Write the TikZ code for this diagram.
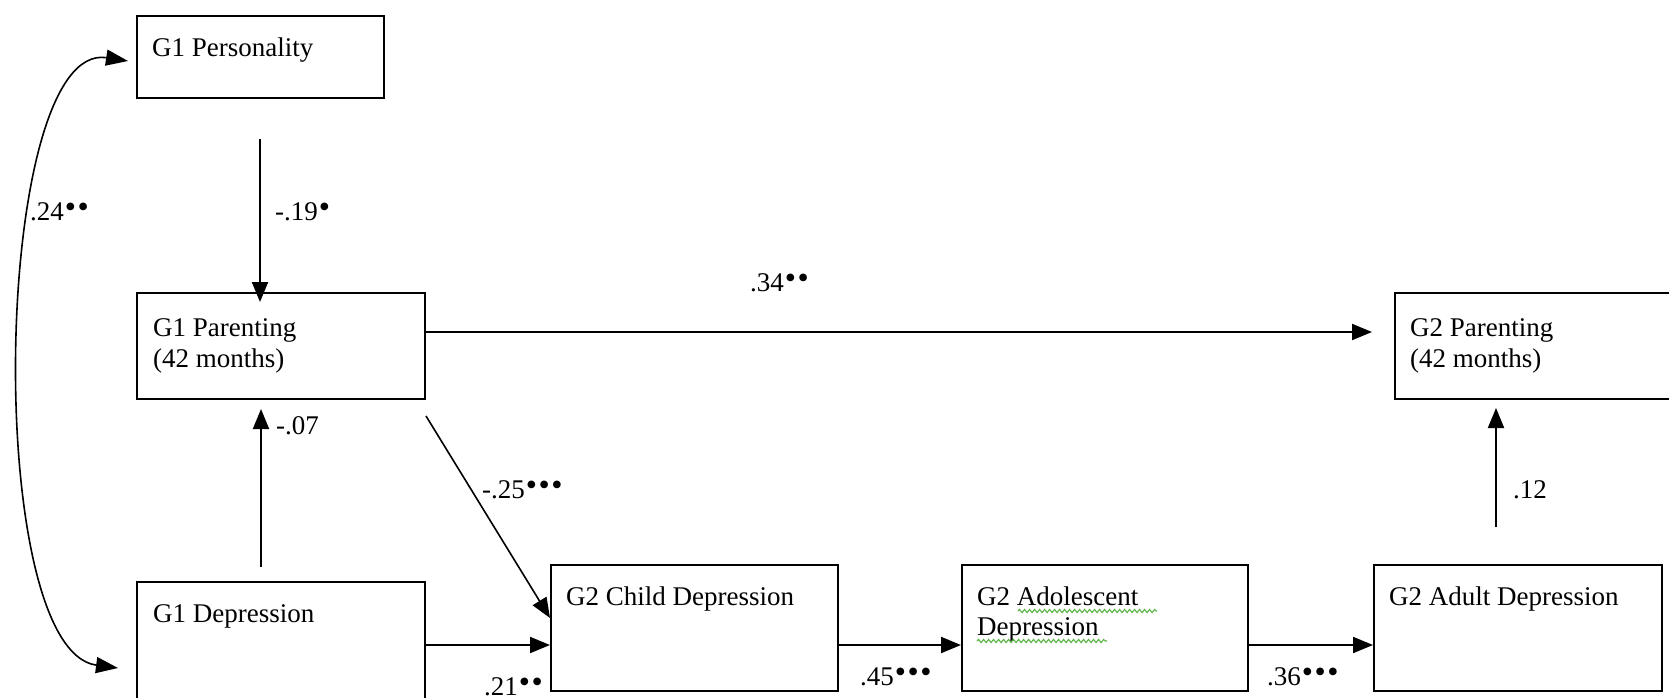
\documentclass[tikz,border=0pt]{standalone}
\usepackage{fontspec}
\setmainfont{Liberation Serif}
\usetikzlibrary{arrows.meta,decorations.pathmorphing}
\newcommand{\sg}{\kern1pt\raisebox{2.5pt}{\fontsize{32}{32}\selectfont•}\kern0.5pt}
\definecolor{spell}{RGB}{90,180,70}
\begin{document}
\begin{tikzpicture}[x=1pt,y=-1pt,
  box/.style={draw, line width=2pt, anchor=north west, inner sep=0pt},
  txt/.style={anchor=base west, inner sep=0pt, font=\fontsize{27}{31}\selectfont},
  lbl/.style={anchor=base west, inner sep=0pt, font=\fontsize{27}{31}\selectfont},
  arr/.style={line width=2pt, -{Triangle[length=20pt,width=16pt]}},
  biarr/.style={line width=1.6pt, {Triangle[length=22pt,width=16pt]}-{Triangle[length=22pt,width=16pt]}},
  squig/.style={spell, line width=1.1pt, decorate, decoration={snake, amplitude=1.6pt, segment length=5pt}}
]
\useasboundingbox (0,0) rectangle (1669,698);

% boxes
\node[box, minimum width=247pt, minimum height=82pt] (per) at (136,15) {};
\node[box, minimum width=288pt, minimum height=106pt] (par1) at (136,292) {};
\node[box, minimum width=288pt, minimum height=140pt] (dep1) at (136,581) {};
\node[box, minimum width=287pt, minimum height=126pt] (ch) at (550,564) {};
\node[box, minimum width=286pt, minimum height=126pt] (ad) at (961,564) {};
\node[box, minimum width=288pt, minimum height=126pt] (adu) at (1373,564) {};
\node[box, minimum width=300pt, minimum height=106pt] (par2) at (1394,292) {};

% box texts
\node[txt] (perT) at (152,57) {G1 Personality};
\node[txt] (par1T) at (153,336) {G1 Parenting};
\node[txt] (par1T2) at (153,367) {(42 months)};
\node[txt] (dep1T) at (153,622) {G1 Depression};
\node[txt] (chT) at (566,605) {G2 Child Depression};
\node[txt] (adT) at (977,605) {G2 Adolescent};
\node[txt] (adT2) at (977,635) {Depression};
\node[txt] (aduT) at (1389,605) {G2 Adult Depression};
\node[txt] (par2T) at (1410,336) {G2 Parenting};
\node[txt] (par2T2) at (1410,367) {(42 months)};

% spell-check underlines
\draw[squig] (1018,611) -- (1157,611);
\draw[squig] (977,641) -- (1107,641);

% connectors
\coordinate (a1) at (260,139);
\draw[arr, shorten >=-10pt] (a1) -- (a1 |- par1.north);

\coordinate (a2) at (261,567);
\draw[arr, shorten >=9pt] (a2) -- (a2 |- par1.south);

\coordinate (a3) at (426,332);
\draw[arr, shorten >=22pt] (a3) -- (a3 -| par2.west);

\coordinate (a4) at (426,416);
\coordinate (a4e) at (550,618);
\draw[line width=1.6pt, -{Triangle[length=20pt,width=16pt]}] (a4) -- (a4e);

\coordinate (a5) at (424,645);
\draw[arr] (a5) -- (a5 -| ch.west);
\coordinate (a6) at (837,645);
\draw[arr] (a6) -- (a6 -| ad.west);
\coordinate (a7) at (1247,645);
\draw[arr] (a7) -- (a7 -| adu.west);

\coordinate (a8) at (1496,527);
\draw[arr, shorten >=8pt] (a8) -- (a8 |- par2.south);

\coordinate (ctop) at (128,61);
\coordinate (cbot) at (118,668);
\draw[biarr] (ctop) .. controls (-8,40) and (-18,650) .. (cbot);

% labels
\node[lbl] (l24) at (30,220) {.24\sg\sg};
\node[lbl] (l19) at (275,220) {-.19\sg};
\node[lbl] (l07) at (276,434) {-.07};
\node[lbl] (l25) at (482,498) {-.25\sg\sg\sg};
\node[lbl] (l34) at (750,291) {.34\sg\sg};
\node[lbl] (l21) at (484,695) {.21\sg\sg};
\node[lbl] (l45) at (860,685) {.45\sg\sg\sg};
\node[lbl] (l36) at (1267,685) {.36\sg\sg\sg};
\node[lbl] (l12) at (1513,498) {.12};
\end{tikzpicture}
\end{document}
